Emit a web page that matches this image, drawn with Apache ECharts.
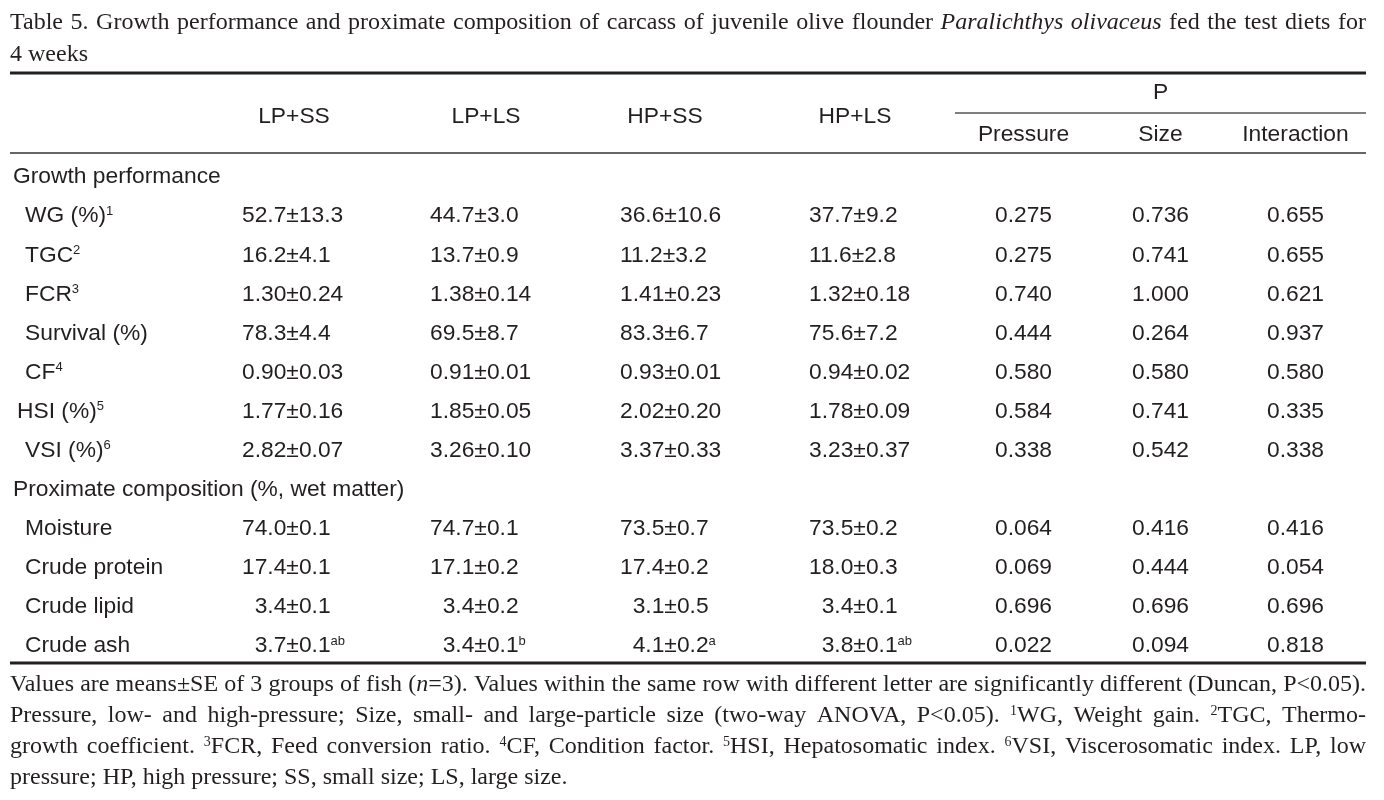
<!DOCTYPE html>
<html><head><meta charset="utf-8">
<script src="https://cdn.jsdelivr.net/npm/echarts@6/dist/echarts.min.js"></script>
<style>html,body{margin:0;padding:0;background:#fff}#c{width:1384px;height:800px}</style>
</head><body><div id="c"></div>
<script>
// ---------- data ----------
const titleLines = [
  'Table 5. Growth performance and proximate composition of carcass of juvenile olive flounder {i|Paralichthys} {i|olivaceus} fed the test diets for',
  '4 weeks'
];
const groupNames = ['LP+SS', 'LP+LS', 'HP+SS', 'HP+LS'];
const pHeader = 'P';
const pNames = ['Pressure', 'Size', 'Interaction'];

const rowLabels = ['Growth performance', 'WG (%)', 'TGC', 'FCR', 'Survival (%)', 'CF', 'HSI (%)', 'VSI (%)',
  'Proximate composition (%, wet matter)', 'Moisture', 'Crude protein', 'Crude lipid', 'Crude ash'];
const rowIsSection = [true, false, false, false, false, false, false, false, true, false, false, false, false];
const labelNotes = ['', '1', '2', '3', '', '4', '5', '6', '', '', '', '', ''];

const lpSS = ['', '52.7±13.3', '16.2±4.1', '1.30±0.24', '78.3±4.4', '0.90±0.03', '1.77±0.16', '2.82±0.07', '', '74.0±0.1', '17.4±0.1', '\u20073.4±0.1', '\u20073.7±0.1'];
const lpLS = ['', '44.7±3.0', '13.7±0.9', '1.38±0.14', '69.5±8.7', '0.91±0.01', '1.85±0.05', '3.26±0.10', '', '74.7±0.1', '17.1±0.2', '\u20073.4±0.2', '\u20073.4±0.1'];
const hpSS = ['', '36.6±10.6', '11.2±3.2', '1.41±0.23', '83.3±6.7', '0.93±0.01', '2.02±0.20', '3.37±0.33', '', '73.5±0.7', '17.4±0.2', '\u20073.1±0.5', '\u20074.1±0.2'];
const hpLS = ['', '37.7±9.2', '11.6±2.8', '1.32±0.18', '75.6±7.2', '0.94±0.02', '1.78±0.09', '3.23±0.37', '', '73.5±0.2', '18.0±0.3', '\u20073.4±0.1', '\u20073.8±0.1'];
const lpSSLetters = ['', '', '', '', '', '', '', '', '', '', '', '', 'ab'];
const lpLSLetters = ['', '', '', '', '', '', '', '', '', '', '', '', 'b'];
const hpSSLetters = ['', '', '', '', '', '', '', '', '', '', '', '', 'a'];
const hpLSLetters = ['', '', '', '', '', '', '', '', '', '', '', '', 'ab'];

const pPressure = ['', '0.275', '0.275', '0.740', '0.444', '0.580', '0.584', '0.338', '', '0.064', '0.069', '0.696', '0.022'];
const pSize = ['', '0.736', '0.741', '1.000', '0.264', '0.580', '0.741', '0.542', '', '0.416', '0.444', '0.696', '0.094'];
const pInteraction = ['', '0.655', '0.655', '0.621', '0.937', '0.580', '0.335', '0.338', '', '0.416', '0.054', '0.696', '0.818'];

const footLines = [
  'Values are means±SE of 3 groups of fish ({i|n}=3). Values within the same row with different letter are significantly different (Duncan, P<0.05).',
  'Pressure, low- and high-pressure; Size, small- and large-particle size (two-way ANOVA, P<0.05). {s|1}WG, Weight gain. {s|2}TGC, Thermo-',
  'growth coefficient. {s|3}FCR, Feed conversion ratio. {s|4}CF, Condition factor. {s|5}HSI, Hepatosomatic index. {s|6}VSI, Viscerosomatic index. LP, low',
  'pressure; HP, high pressure; SS, small size; LS, large size.'
];

// ---------- style / layout ----------
const INK = '#231f20';
const SANS = '"Liberation Sans", Arial, sans-serif';
const SERIF = '"Liberation Serif", "Times New Roman", serif';
const TFS = 22.8;
const sansFont = TFS + 'px ' + SANS;
const tableRich = { s: { font: '13px ' + SANS, verticalAlign: 'top' } };
const SFS = 24;
const serifFonts = { '': SFS + 'px ' + SERIF, i: 'italic ' + SFS + 'px ' + SERIF, s: '14px ' + SERIF };
const serifRich = { i: { font: serifFonts.i }, s: { font: serifFonts.s, verticalAlign: 'top' } };
const LEFT = 10, RIGHT = 1366;
const X_GROUP = [242, 430, 620, 809];
const X_GROUP_HEAD = [294, 486, 665, 855];
const X_P = [1023.5, 1160.5, 1295.5];

const groupCols = [lpSS, lpLS, hpSS, hpLS];
const groupLetters = [lpSSLetters, lpLSLetters, hpSSLetters, hpLSLetters];
const pCols = [pPressure, pSize, pInteraction];

function sansText(x, y, text, align) {
  return { type: 'text', x: x, y: y, silent: true,
    style: { text: text, font: sansFont, fill: INK, textAlign: align, textVerticalAlign: 'middle', rich: tableRich } };
}

// ---------- serif paragraph lines (justified) ----------
const ctx = document.createElement('canvas').getContext('2d');
function parseSegs(str) {
  const re = /\{(\w+)\|([^}]*)\}/g; let last = 0, m; const out = [];
  while ((m = re.exec(str))) {
    if (m.index > last) out.push({ t: str.slice(last, m.index), k: '' });
    out.push({ t: m[2], k: m[1] }); last = re.lastIndex;
  }
  if (last < str.length) out.push({ t: str.slice(last), k: '' });
  return out;
}
function measure(str) {
  return parseSegs(str).reduce((w, s) => { ctx.font = serifFonts[s.k]; return w + ctx.measureText(s.t).width; }, 0);
}
function serifEl(x, y, text, extra) {
  return Object.assign({ type: 'text', x: x, y: y, silent: true,
    style: { text: text, font: serifFonts[''], fill: INK, textAlign: 'left', textVerticalAlign: 'middle', rich: serifRich } }, extra || {});
}
function layoutLine(str, y, justify) {
  const words = str.split(' ');
  const widths = words.map(measure);
  ctx.font = serifFonts[''];
  const sp = ctx.measureText(' ').width;
  const sum = widths.reduce((a, b) => a + b, 0);
  const natural = sum + sp * (words.length - 1);
  const avail = RIGHT - LEFT;
  if (natural > avail) {
    return [serifEl(LEFT, y, str, { scaleX: avail / natural, originX: LEFT, originY: y })];
  }
  if (!justify || words.length < 2) return [serifEl(LEFT, y, str)];
  const gap = (avail - sum) / (words.length - 1);
  const els = []; let x = LEFT;
  words.forEach((w, k) => { els.push(serifEl(x, y, w)); x += widths[k] + gap; });
  return els;
}

const graphics = [];
layoutLine(titleLines[0], 22.5, true).forEach(e => graphics.push(e));
layoutLine(titleLines[1], 55, false).forEach(e => graphics.push(e));
const footY = [685, 716, 747, 778];
footLines.forEach((l, k) => layoutLine(l, footY[k], k < footLines.length - 1).forEach(e => graphics.push(e)));

// header
groupNames.forEach((g, c) => graphics.push(sansText(X_GROUP_HEAD[c], 117, g, 'center')));
graphics.push(sansText(X_P[1], 93, pHeader, 'center'));
pNames.forEach((p, c) => graphics.push(sansText(X_P[c], 135, p, 'center')));

// rules
function rule(x1, x2, y, w, color) {
  return { type: 'line', silent: true, shape: { x1: x1, y1: y, x2: x2, y2: y }, style: { stroke: color || INK, lineWidth: w } };
}
graphics.push(rule(LEFT, RIGHT, 73, 3));
graphics.push(rule(955, RIGHT, 113, 1.3, '#555'));
graphics.push(rule(LEFT, RIGHT, 153, 1.3, '#333'));
graphics.push(rule(LEFT, RIGHT, 663, 3));

const chart = echarts.init(document.getElementById('c'), null, { renderer: 'canvas' });
chart.setOption({
  animation: false,
  backgroundColor: '#fff',
  grid: { left: 0, right: 0, top: 157.5, bottom: 134.4 },
  xAxis: { type: 'value', min: 0, max: 1384, show: false },
  yAxis: { type: 'category', data: rowLabels, inverse: true, show: false },
  graphic: { elements: graphics },
  series: [{
    type: 'custom',
    clip: false,
    silent: true,
    data: rowLabels.map((_, i) => [0, i]),
    renderItem: function (params, api) {
      const i = api.value(1);
      const y = api.coord([0, i])[1];
      const xOf = v => api.coord([v, i])[0];
      const kids = [];
      const label = rowLabels[i] + (labelNotes[i] ? '{s|' + labelNotes[i] + '}' : '');
      const lx = rowIsSection[i] ? 13 : (rowLabels[i] === 'HSI (%)' ? 17 : 25);
      kids.push(sansText(xOf(lx), y, label, 'left'));
      if (!rowIsSection[i]) {
        groupCols.forEach((col, c) => {
          const t = col[i] + (groupLetters[c][i] ? '{s|' + groupLetters[c][i] + '}' : '');
          kids.push(sansText(xOf(X_GROUP[c]), y, t, 'left'));
        });
        pCols.forEach((col, c) => kids.push(sansText(xOf(X_P[c]), y, col[i], 'center')));
      }
      return { type: 'group', children: kids };
    }
  }]
});
</script>
</body></html>
